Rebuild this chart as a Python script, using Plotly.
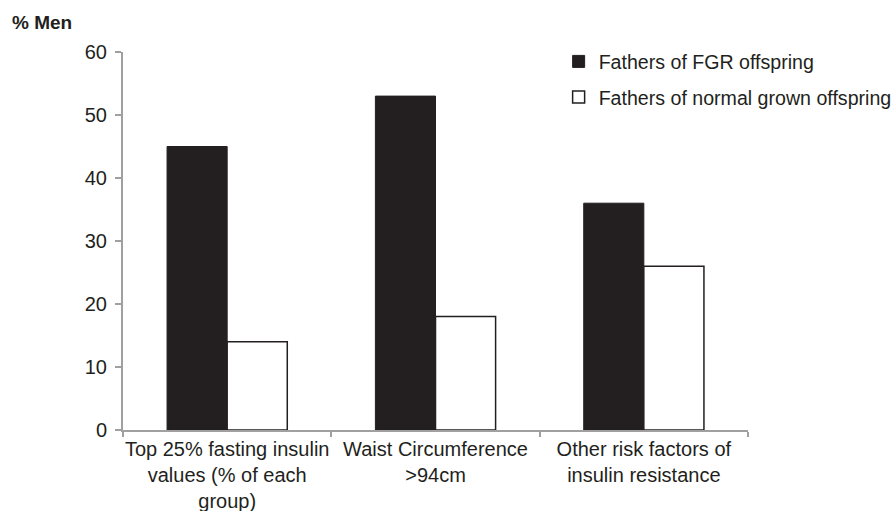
import plotly.graph_objects as go

categories = ["Top 25% fasting insulin<br>values (% of each<br>group)",
              "Waist Circumference<br>>94cm",
              "Other risk factors of<br>insulin resistance"]
fgr = [45, 53, 36]
normal = [14, 18, 26]
series_names = ["Fathers of FGR offspring", "Fathers of normal grown offspring"]
y_ticks = [0, 10, 20, 30, 40, 50, 60]

font_family = "Liberation Sans, Arial, sans-serif"
fig = go.Figure()
fig.add_trace(go.Bar(x=categories, y=fgr, name=series_names[0], legendgroup="a",
                     marker=dict(color="#231f20", line=dict(color="#231f20", width=1))))
fig.add_trace(go.Bar(x=categories, y=normal, name=series_names[1], legendgroup="b",
                     marker=dict(color="white", line=dict(color="#231f20", width=1.5))))

fig.update_layout(
    width=893, height=511,
    margin=dict(l=123, r=145, t=52, b=81, autoexpand=False),
    plot_bgcolor="white", paper_bgcolor="white",
    barmode="group", bargap=0.423, bargroupgap=0,
    font=dict(family=font_family, size=20, color="#231f20"),
    showlegend=True,
    legend=dict(x=0.697, y=1.026, xanchor="left", yanchor="top",
                font=dict(size=19.6, color="#231f20"), tracegroupgap=7,
                bgcolor="rgba(0,0,0,0)", itemwidth=30),
    xaxis=dict(showline=True, linecolor="#a0a0a0", linewidth=2,
               ticks="outside", tickson="boundaries", tickcolor="#a0a0a0",
               ticklen=5, tickwidth=1.5, showgrid=False, automargin=False,
               tickangle=0, tickfont=dict(size=20, color="#231f20")),
    yaxis=dict(range=[0, 60], tickvals=y_ticks, showline=True, linecolor="#a0a0a0",
               linewidth=2, ticks="outside", tickcolor="#a0a0a0", ticklen=6,
               tickwidth=1.5, showgrid=False, zeroline=False, automargin=False,
               ticklabelstandoff=4, tickfont=dict(size=20, color="#231f20")),
    annotations=[dict(text="<b>% Men</b>", xref="paper", yref="paper",
                      x=(10 - 123) / 625, y=1 + (52 - 22) / 378,
                      xanchor="left", yanchor="middle",
                      showarrow=False, font=dict(size=19, color="#231f20"))],
)
fig.write_html("out.html", config={"displayModeBar": False},
               post_script="document.body.style.margin='0';")
